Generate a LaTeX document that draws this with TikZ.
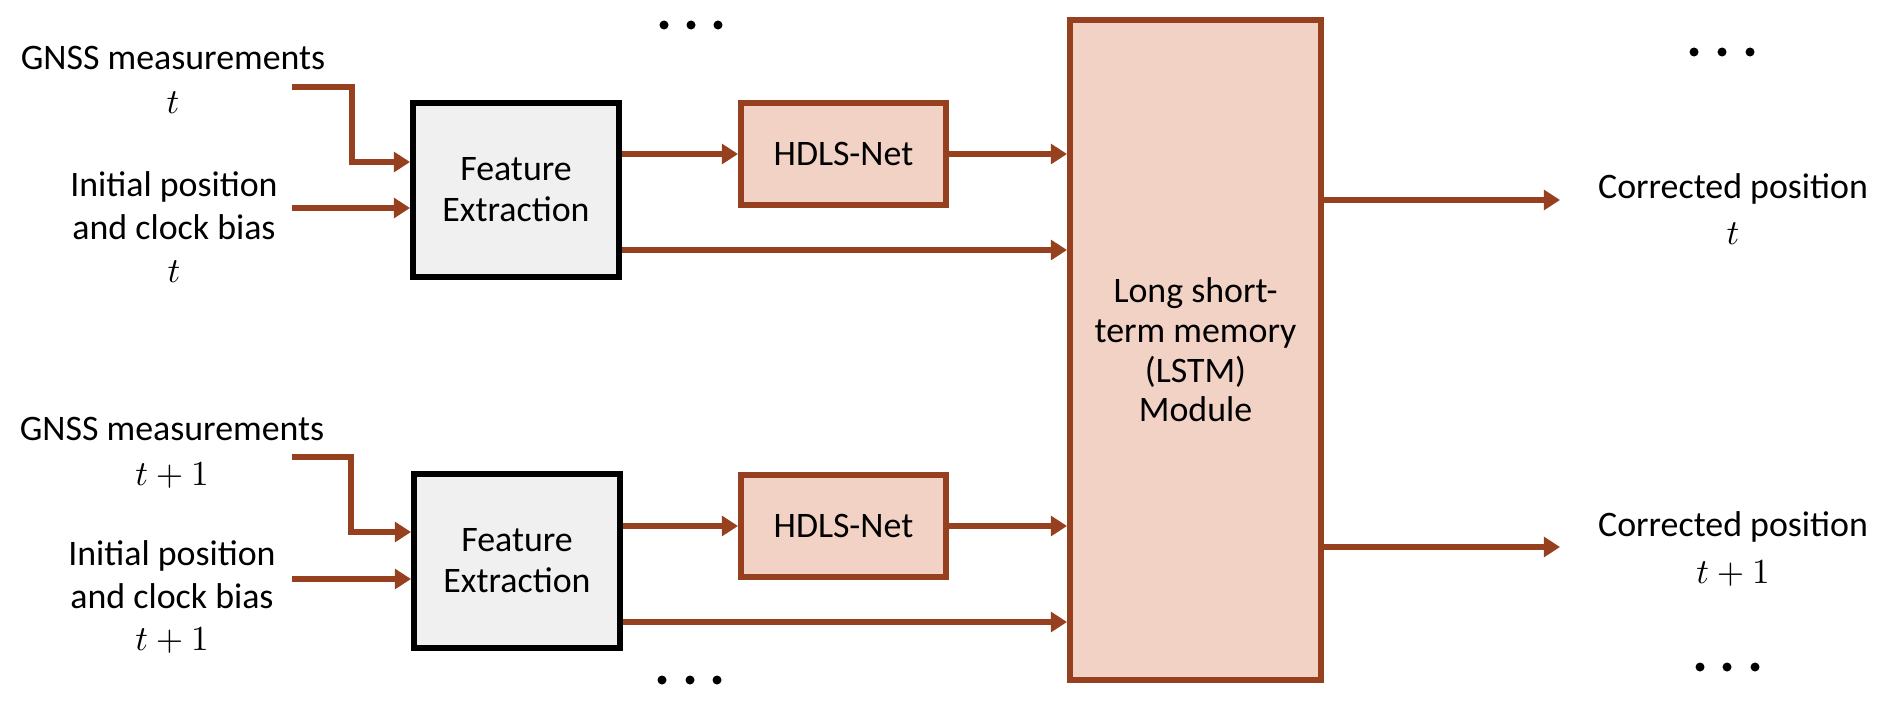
\documentclass[tikz,border=0pt]{standalone}
\usepackage{fontspec}
\setmainfont{Carlito}
\usetikzlibrary{arrows.meta}
\definecolor{brn}{RGB}{150,64,32}
\definecolor{pinkf}{RGB}{243,210,198}
\definecolor{fegray}{RGB}{240,240,240}
\begin{document}
\begin{tikzpicture}[x=0.01cm,y=-0.01cm,
  lbl/.style={font=\fontsize{10.2}{12.2}\selectfont, align=center, inner sep=0},
  febox/.style={draw=black, line width=1.8pt, fill=fegray, minimum width=2.055cm, minimum height=1.735cm, inner sep=0, align=center, font=\fontsize{10.2}{11.7}\selectfont},
  hdbox/.style={draw=brn, line width=1.8pt, fill=pinkf, minimum width=2.045cm, minimum height=1.015cm, inner sep=0, font=\fontsize{10.2}{12}\selectfont},
  lstmbox/.style={draw=brn, line width=1.8pt, fill=pinkf, minimum width=2.505cm, minimum height=6.595cm, inner sep=0, align=center, font=\fontsize{10.2}{11.3}\selectfont},
  arr/.style={draw=brn, line width=1.8pt, -{Triangle[length=4.6pt,width=5.6pt]}},
  dotmark/.style={circle, fill=black, inner sep=0, minimum size=0.09cm}
]
\useasboundingbox (0,0) rectangle (1877,715);

% boxes
\node[febox] (fe1) at (516,190) {Feature\\Extraction};
\node[febox] (fe2) at (517,561) {Feature\\Extraction};
\node[hdbox] (hd1) at (843.5,154) {HDLS-Net};
\node[hdbox] (hd2) at (843.5,526) {HDLS-Net};
\node[lstmbox] (lstm) at (1195.5,350) {Long short-\\term memory\\(LSTM)\\Module};

% labels
\node[lbl] (g1) at (173,80) {GNSS measurements\\[0.5pt]$t$};
\node[lbl] (i1) at (174,227) {Initial position\\and clock bias\\$t$};
\node[lbl] (g2) at (172,453) {GNSS measurements\\[0.5pt]$t+1$};
\node[lbl] (i2) at (172,597) {Initial position\\and clock bias\\$t+1$};
\node[lbl] (c1) at (1733,209) {Corrected position\\[1pt]$t$};
\node[lbl] (c2) at (1733,549) {Corrected position\\[1pt]$t+1$};

% connector end points
\coordinate (g1s) at (292,87);
\coordinate (g1b) at (352,87);
\coordinate (i1s) at (292,208);
\coordinate (g2s) at (292,457);
\coordinate (g2b) at (351,457);
\coordinate (i2s) at (292,579);
\coordinate (o1) at (1560,200);
\coordinate (o2) at (1560,547);

% connectors, upper
\draw[arr] (g1s) -- (g1b) |- (fe1.west |- 0,162);
\draw[arr] (i1s) -- (fe1.west |- i1s);
\draw[arr] (fe1.east |- hd1.west) -- (hd1.west);
\draw[arr] (hd1.east) -- (lstm.west |- hd1.east);
\draw[arr] (fe1.east |- 0,250) -- (lstm.west |- 0,250);
\draw[arr] (lstm.east |- o1) -- (o1);

% connectors, lower
\draw[arr] (g2s) -- (g2b) |- (fe2.west |- 0,532);
\draw[arr] (i2s) -- (fe2.west |- i2s);
\draw[arr] (fe2.east |- hd2.west) -- (hd2.west);
\draw[arr] (hd2.east) -- (lstm.west |- hd2.east);
\draw[arr] (fe2.east |- 0,622) -- (lstm.west |- 0,622);
\draw[arr] (lstm.east |- o2) -- (o2);

% ellipsis dots
\foreach \n/\x/\y in {a1/664/25, a2/691/25, a3/718/25,
                      b1/662/680, b2/690/680, b3/717/680,
                      c1/1694/52, c2/1722/52, c3/1750/52,
                      d1/1700/667, d2/1727/667, d3/1755/667}
  \node[dotmark] (dot\n) at (\x,\y) {};
\end{tikzpicture}
\end{document}
